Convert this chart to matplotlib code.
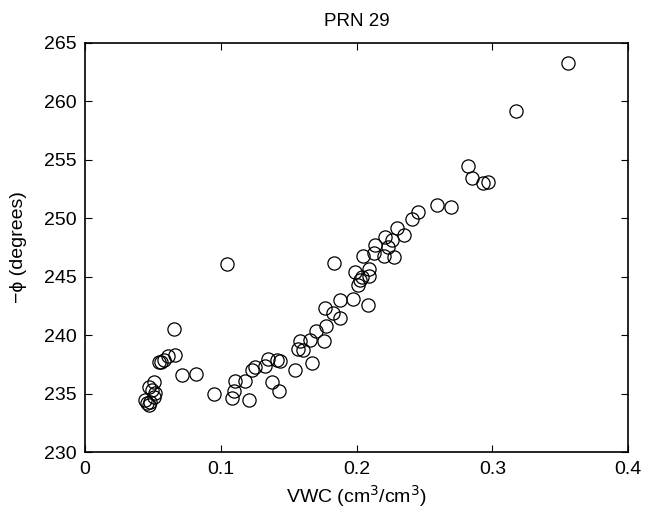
import matplotlib.pyplot as plt
import numpy as np

plt.rcParams['font.family'] = ['Liberation Sans', 'DejaVu Sans']

# volumetric water content (cm3/cm3) and -phi (degrees)
vwc = [0.0442, 0.0455, 0.0470, 0.0480, 0.0467, 0.0490, 0.0505, 0.0516, 0.0510,
       0.0545, 0.0560, 0.0580, 0.0609, 0.0663, 0.0656, 0.0712, 0.0818, 0.0950, 0.1044,
       0.1080, 0.1100, 0.1105, 0.1180, 0.1210, 0.1228, 0.1252, 0.1326, 0.1350, 0.1375,
       0.1410, 0.1436, 0.1430, 0.1547, 0.1570, 0.1584, 0.1606,
       0.1670, 0.1657, 0.1700, 0.1756, 0.1775, 0.1768, 0.1824, 0.1830, 0.1880, 0.1878,
       0.1970, 0.2080, 0.1989, 0.2013, 0.2026, 0.2038, 0.2094, 0.2094, 0.2050, 0.2124,
       0.2203, 0.2276, 0.2136, 0.2210, 0.2227, 0.2259, 0.2296, 0.2345, 0.2406, 0.2448,
       0.2595, 0.2694, 0.2819, 0.2848, 0.2927, 0.2964, 0.3175, 0.3556]
phase = [234.5, 234.2, 234.0, 234.3, 235.6, 235.3, 234.7, 235.1, 236.0,
         237.7, 237.7, 237.9, 238.2, 238.3, 240.5, 236.6, 236.7, 235.0, 246.1,
         234.6, 235.2, 236.1, 236.1, 234.5, 237.0, 237.3, 237.4, 238.0, 236.0,
         237.9, 237.8, 235.2, 237.0, 238.8, 239.5, 238.7,
         237.6, 239.6, 240.4, 239.5, 240.8, 242.3, 241.9, 246.2, 241.5, 243.0,
         243.1, 242.6, 245.4, 244.3, 244.7, 245.0, 245.7, 245.1, 246.8, 247.0,
         246.8, 246.7, 247.7, 248.4, 247.5, 248.1, 249.2, 248.6, 249.9, 250.5,
         251.1, 251.0, 254.5, 253.4, 253.0, 253.1, 259.2, 263.3]

xticks = [0, 0.1, 0.2, 0.3, 0.4]
yticks = [230, 235, 240, 245, 250, 255, 260, 265]

fig = plt.figure(figsize=(6.45, 5.15), dpi=100)
ax = fig.add_axes([0.132, 0.122, 0.842, 0.795])

ax.plot(vwc, phase, 'o', mfc='none', mec='black', ms=9.5, mew=0.9)

ax.set_xlim(0, 0.4)
ax.set_ylim(230, 265)
ax.set_xticks(xticks)
ax.set_xticklabels(['0', '0.1', '0.2', '0.3', '0.4'])
ax.set_yticks(yticks)
ax.tick_params(direction='in', top=True, right=True, length=5, width=0.8,
               labelsize=14, pad=6)
for s in ax.spines.values():
    s.set_linewidth(1.2)

ax.set_title('PRN 29', fontsize=13.5, pad=12)
ax.set_xlabel('VWC (cm$^3$/cm$^3$)', fontsize=14, labelpad=4)
ax.set_ylabel('\u2212\u03d5 (degrees)', fontsize=14, labelpad=12)

plt.savefig('out.png', dpi=100)
